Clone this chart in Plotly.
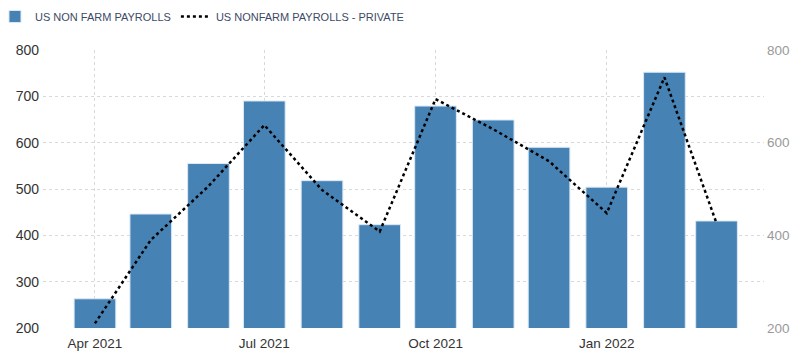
import plotly.graph_objects as go

months = ["2021-04-01", "2021-05-01", "2021-06-01", "2021-07-01", "2021-08-01", "2021-09-01",
          "2021-10-01", "2021-11-01", "2021-12-01", "2022-01-01", "2022-02-01", "2022-03-01"]
payrolls = [263, 446, 555, 690, 518, 423, 679, 649, 590, 504, 752, 431]
private = [210, 390, 506, 638, 498, 408, 694, 629, 560, 448, 741, 426]
tick_vals = ["2021-04-01", "2021-07-01", "2021-10-01", "2022-01-01"]
tick_text = ["Apr 2021", "Jul 2021", "Oct 2021", "Jan 2022"]

DAY_MS = 86400000

fig = go.Figure()
fig.add_trace(go.Bar(
    x=months, y=payrolls, name="US NON FARM PAYROLLS",
    marker=dict(color="#4682B4", line=dict(color="#dbe8f5", width=1)),
    width=[22.4 * DAY_MS] * len(months),
))
fig.add_trace(go.Scatter(
    x=months, y=private, name="US NONFARM PAYROLLS - PRIVATE",
    mode="lines", line=dict(color="black", width=2.5, dash="dot"),
    yaxis="y2",
))

fig.update_layout(
    width=784, height=344,
    margin=dict(l=35, r=28, t=42, b=24, autoexpand=False),
    plot_bgcolor="white", paper_bgcolor="white",
    font=dict(family="Arial, Liberation Sans, sans-serif", color="#333"),
    showlegend=True,
    legend=dict(orientation="h", xref="paper", yref="paper", x=-0.0666, y=1.1727,
                xanchor="left", yanchor="top",
                font=dict(size=11, color="#3d4a66"), itemwidth=30,
                bgcolor="rgba(0,0,0,0)"),
    xaxis=dict(
        type="date", range=["2021-03-04 02:00", "2022-03-26 12:00"],
        tickvals=tick_vals, ticktext=tick_text,
        tickfont=dict(size=13.5, color="#333"),
        showgrid=True, gridcolor="#d9d9d9", griddash="dot", gridwidth=1,
        showline=False, zeroline=False, ticks="", automargin=False,
        ticklabelstandoff=5,
    ),
    yaxis=dict(
        range=[200, 800], dtick=100, tick0=200,
        tickfont=dict(size=14, color="#333"),
        showgrid=True, gridcolor="#d9d9d9", griddash="dot", gridwidth=1,
        zeroline=False, showline=False, ticks="", ticklabelstandoff=3, automargin=False,
    ),
    yaxis2=dict(
        range=[200, 800], dtick=200, tick0=200, overlaying="y", side="right",
        tickfont=dict(size=13.5, color="#999"), showgrid=False,
        zeroline=False, showline=False, ticks="", automargin=False, ticklabelstandoff=2,
    ),
)

fig.write_html("out.html")
